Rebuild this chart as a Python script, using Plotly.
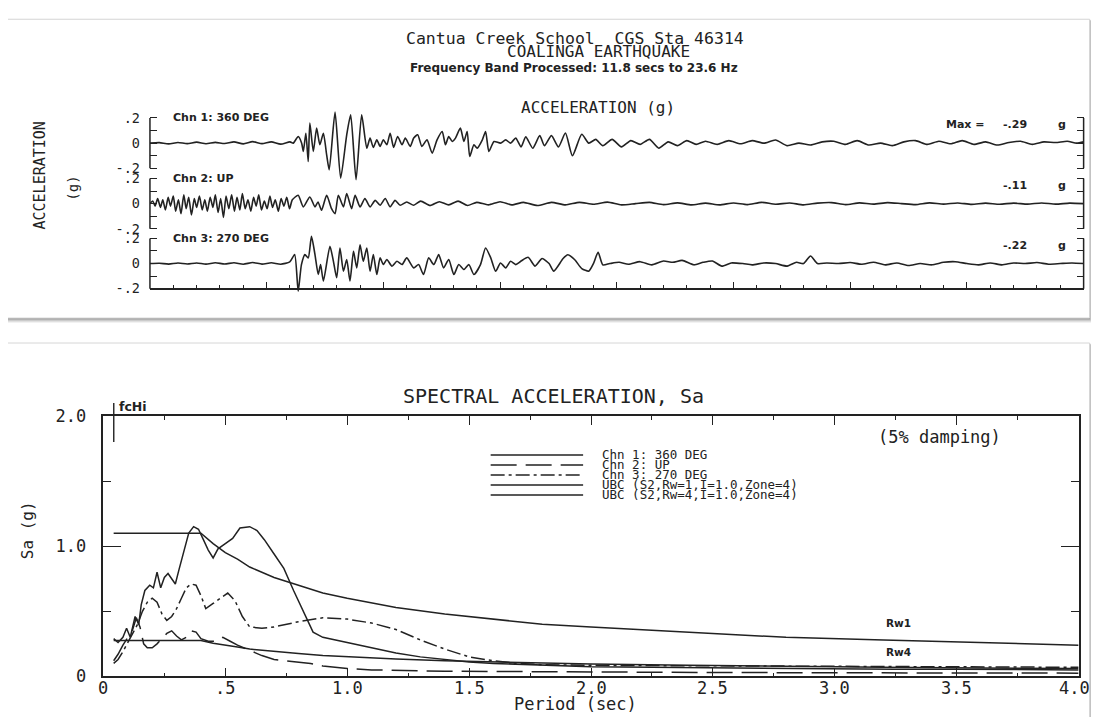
import plotly.graph_objects as go

# figure is 16 px smaller than the window so the page (with the 8 px body margin) fits
W, H = 1083, 709
OFF = 8
# measured screen calibration of the rendered page (window px = S * target + O)
SXC, OXC = 0.995, 4.8
SYC, OYC = 0.9724, 10.0

# ---------------- data: acceleration time histories (sec, g) ----------------
t_chn1 = [0, 0.4, 0.8, 1.2, 1.6, 2.0, 2.4, 2.8, 3.2, 3.6, 4.0, 4.4, 4.8, 5.2, 5.6, 6.0,
          6.14, 6.35, 6.5, 6.57, 6.68, 6.78, 6.85, 7.0, 7.14, 7.28, 7.43, 7.57, 7.68, 7.93,
          8.17, 8.43, 8.6, 8.83, 9.07, 9.29, 9.43, 9.57, 9.72, 9.86, 10.0, 10.15, 10.29,
          10.44, 10.61, 10.8, 10.94, 11.15, 11.3, 11.47, 11.65, 11.87, 12.09, 12.3, 12.52,
          12.66, 12.8, 12.95, 13.09, 13.3, 13.45, 13.59, 13.7, 13.88, 14.02, 14.24, 14.38,
          14.52, 14.74, 15.02, 15.24, 15.45, 15.67, 15.9, 16.1, 16.4, 16.7, 16.9, 17.2, 17.5,
          17.8, 18.1, 18.5, 18.8, 19.1, 19.4, 19.8, 20.2, 20.6, 21.0, 21.4, 21.8, 22.2, 22.6,
          23.0, 23.4, 23.8, 24.3, 24.8, 25.3, 25.8, 26.3, 26.8, 27.3, 27.8, 28.3, 28.8, 29.3,
          29.8, 30.3, 30.8, 31.3, 31.8, 32.3, 32.8, 33.3, 33.8, 34.3, 34.8, 35.3, 35.8, 36.3,
          36.8, 37.3, 37.8, 38.3, 38.8, 39.3, 39.7, 40.0]
a_chn1 = [0, 0.004, -0.006, 0.005, -0.004, 0.008, -0.005, 0.006, -0.003, 0.01, -0.006, 0.012, -0.004, 0.01, -0.008, 0.01,
          0.0, 0.053, 0.0, -0.066, 0.079, -0.146, 0.159, -0.066, 0.119, -0.013, 0.079, -0.093, -0.212, 0.246,
          -0.278, 0.066, 0.225, -0.290, 0.225, -0.04, 0.04, -0.034, 0.026, -0.026, 0.026, -0.013, 0.079,
          -0.034, 0.053, -0.013, 0.04, -0.026, 0.04, 0.066, -0.026, 0.026, -0.079, 0.026, 0.093,
          -0.013, 0.053, 0.013, 0.04, 0.119, 0.013, 0.093, -0.106, -0.013, -0.04, 0.026, 0.093,
          -0.066, 0.013, 0.0, 0.026, 0.0, 0.04, -0.03, 0.05, -0.04, 0.06, -0.02, 0.06, -0.03,
          0.08, -0.10, 0.07, 0.0, 0.03, -0.02, 0.03, -0.03, 0.02, -0.01, 0.03, -0.04, 0.01, -0.02,
          0.02, -0.01, 0.015, -0.01, 0.02, -0.005, 0.02, 0.0, 0.025, -0.02, 0.0, -0.015, 0.01, 0.015,
          -0.01, 0.02, -0.015, 0.0, -0.02, 0.01, 0.02, -0.01, 0.015, -0.005, 0.02, -0.01, 0.01, -0.015,
          0.005, 0.015, -0.01, 0.01, 0.005, 0.015, 0.0, 0.01]

t_chn2 = [0.0, 0.12, 0.22, 0.33, 0.45, 0.55, 0.66, 0.78, 0.88, 1.0, 1.1, 1.22, 1.33, 1.45, 1.55, 1.66,
          1.78, 1.9, 2.0, 2.12, 2.24, 2.35, 2.46, 2.58, 2.7, 2.8, 2.92, 3.03, 3.15, 3.26, 3.38, 3.5,
          3.62, 3.73, 3.85, 3.96, 4.08, 4.2, 4.32, 4.44, 4.55, 4.66, 4.78, 4.9, 5.02, 5.14, 5.25,
          5.37, 5.5, 5.62, 5.74, 5.86, 5.98, 6.1, 6.35, 6.57, 6.85, 7.07, 7.2, 7.35, 7.57, 7.78,
          7.93, 8.07, 8.29, 8.43, 8.64, 8.79, 9.0, 9.21, 9.43, 9.65, 9.86, 10.08, 10.29, 10.5,
          10.72, 11.0, 11.3, 11.6, 12.0, 12.4, 12.8, 13.2, 13.6, 14.0, 14.5, 15.0, 15.5, 16.0,
          16.6, 17.2, 17.8, 18.4, 19.0, 19.6, 20.2, 20.8, 21.4, 22.0, 22.6, 23.2, 23.8, 24.4,
          25.0, 25.6, 26.2, 26.8, 27.4, 28.0, 28.6, 29.2, 29.8, 30.4, 31.0, 31.6, 32.2, 32.8,
          33.4, 34.0, 34.6, 35.2, 35.8, 36.4, 37.0, 37.6, 38.2, 38.8, 39.4, 40.0]
a_chn2 = [0.0, 0.02, -0.02, 0.04, -0.03, 0.03, -0.05, 0.05, -0.02, 0.06, -0.06, 0.03, -0.08, 0.07, -0.04, 0.05,
          -0.09, 0.04, -0.03, 0.06, -0.05, 0.03, -0.06, 0.05, -0.03, 0.07, -0.07, 0.04, -0.11, 0.06, -0.04, 0.07,
          -0.06, 0.05, -0.05, 0.08, -0.04, 0.03, -0.06, 0.05, -0.02, 0.07, -0.05, 0.02, -0.04, 0.06, -0.03,
          0.03, -0.06, 0.04, -0.02, 0.05, -0.04, 0.03, 0.066, -0.026, 0.053, -0.026, 0.013, -0.053, 0.066, -0.04,
          -0.08, 0.066, -0.026, 0.08, -0.04, 0.066, -0.026, 0.04, -0.026, 0.026, -0.013, 0.04, -0.026, 0.026,
          -0.013, 0.013, -0.013, 0.02, -0.015, 0.015, -0.01, 0.02, -0.015, 0.01, -0.01, 0.015, -0.01, 0.01,
          -0.015, 0.01, -0.01, 0.01, -0.005, 0.012, -0.01, 0.0, 0.01, -0.008, 0.006, -0.01, 0.004, -0.01,
          0.005, -0.008, 0.01, -0.005, 0.005, -0.01, 0.004, 0.008, -0.008, 0.006, -0.004, 0.008, 0.0, -0.008,
          0.006, -0.004, 0.005, -0.006, 0.004, -0.005, 0.004, -0.004, 0.005, -0.004, 0.004, 0.0]

t_chn3 = [0, 0.4, 0.8, 1.2, 1.6, 2.0, 2.4, 2.8, 3.2, 3.6, 4.0, 4.4, 4.8, 5.2, 5.6, 5.99,
          6.2, 6.35, 6.49, 6.64, 6.78, 6.92, 7.07, 7.21, 7.31, 7.43, 7.71, 7.86, 8.0, 8.14, 8.29,
          8.43, 8.57, 8.72, 8.86, 9.0, 9.14, 9.29, 9.43, 9.57, 9.72, 9.86, 10.0, 10.15, 10.37,
          10.58, 10.8, 11.0, 11.3, 11.51, 11.72, 11.94, 12.16, 12.37, 12.58, 12.8, 13.02, 13.23,
          13.45, 13.66, 13.88, 14.16, 14.38, 14.6, 14.81, 15.02, 15.24, 15.45, 15.67, 15.9, 16.2,
          16.5, 16.8, 17.1, 17.3, 17.7, 17.9, 18.2, 18.5, 18.8, 19.0, 19.2, 19.4, 19.7, 20.1, 20.5,
          21.0, 21.5, 22.0, 22.4, 22.8, 23.3, 23.7, 24.1, 24.5, 24.9, 25.4, 25.8, 26.3, 26.8, 27.3,
          27.7, 28.0, 28.3, 28.6, 29.0, 29.5, 30.0, 30.5, 31.0, 31.5, 32.0, 32.5, 33.0, 33.5, 34.0,
          34.5, 35.0, 35.5, 36.0, 36.5, 37.0, 37.5, 38.0, 38.5, 39.0, 39.5, 40.0]
a_chn3 = [0, 0.003, -0.004, 0.004, -0.003, 0.005, -0.004, 0.006, -0.003, 0.006, -0.005, 0.008, -0.004, 0.006, -0.005, 0.013,
          0.071, -0.22, -0.008, 0.071, 0.045, 0.216, 0.071, -0.087, -0.008, -0.139, 0.137, 0.018, -0.113, 0.124, -0.061,
          0.032, -0.139, 0.097, -0.034, 0.15, 0.018, 0.124, -0.061, 0.071, -0.087, 0.045, -0.008, 0.032, -0.021,
          0.018, -0.008, 0.045, -0.034, -0.008, -0.087, 0.045, -0.008, 0.071, -0.034, 0.032, -0.087, -0.008,
          -0.047, -0.008, -0.087, -0.008, 0.124, 0.045, -0.061, 0.005, -0.034, 0.018, -0.008, 0.02, 0.05,
          -0.02, 0.04, 0.0, -0.06, 0.04, 0.07, 0.03, -0.04, -0.06, 0.0, 0.09, -0.01, 0.0, 0.01, -0.005,
          0.015, -0.01, 0.02, 0.01, 0.025, -0.01, 0.01, 0.02, -0.02, 0.005, 0.0, -0.01, 0.005, 0.0, -0.02,
          0.01, 0.0, 0.06, 0.0, 0.005, 0.0, 0.008, -0.005, 0.01, -0.01, 0.005, -0.015, 0.0, -0.01, 0.01,
          0.015, 0.0, -0.01, 0.005, -0.01, 0.005, 0.0, 0.008, -0.005, 0.0, 0.005, 0.0]

chan_labels = ["Chn 1: 360 DEG", "Chn 2: UP", "Chn 3: 270 DEG"]
max_values = ["-.29", "-.11", "-.22"]

# ---------------- data: response spectra (period sec, Sa g) ----------------
period_chn1 = [0.042, 0.06, 0.08, 0.095, 0.11, 0.13, 0.145, 0.155, 0.17, 0.19, 0.205, 0.22, 0.235, 0.25,
               0.265, 0.28, 0.295, 0.31, 0.33, 0.35, 0.37, 0.39, 0.41, 0.43, 0.45, 0.47, 0.50, 0.53, 0.56,
               0.60, 0.63, 0.66, 0.70, 0.74, 0.78, 0.82, 0.86, 0.90, 0.95, 1.0, 1.1, 1.2, 1.3, 1.4, 1.5,
               1.6, 1.8, 2.0, 2.25, 2.5, 2.75, 3.0, 3.25, 3.5, 3.75, 4.0]
sa_chn1 = [0.29, 0.26, 0.30, 0.37, 0.30, 0.46, 0.40, 0.55, 0.66, 0.70, 0.68, 0.80, 0.68, 0.76,
           0.79, 0.75, 0.71, 0.82, 0.96, 1.10, 1.15, 1.13, 1.05, 0.97, 0.91, 0.98, 1.02, 1.06, 1.14,
           1.15, 1.12, 1.05, 0.94, 0.83, 0.66, 0.50, 0.34, 0.30, 0.28, 0.26, 0.22, 0.18, 0.15, 0.13, 0.11,
           0.10, 0.085, 0.075, 0.07, 0.065, 0.06, 0.06, 0.055, 0.055, 0.05, 0.05]

period_chn2 = [0.042, 0.06, 0.08, 0.10, 0.12, 0.135, 0.15, 0.165, 0.18, 0.20, 0.22, 0.24, 0.26, 0.28,
               0.30, 0.32, 0.34, 0.36, 0.38, 0.40, 0.43, 0.46, 0.49, 0.52, 0.55, 0.60, 0.65, 0.70, 0.75,
               0.80, 0.85, 0.90, 1.0, 1.1, 1.2, 1.4, 1.6, 1.8, 2.0, 2.5, 3.0, 3.5, 4.0]
sa_chn2 = [0.12, 0.17, 0.24, 0.30, 0.36, 0.45, 0.38, 0.25, 0.22, 0.22, 0.25, 0.29, 0.33, 0.35,
           0.31, 0.28, 0.30, 0.35, 0.34, 0.29, 0.27, 0.27, 0.30, 0.27, 0.24, 0.20, 0.16, 0.13, 0.12,
           0.11, 0.10, 0.08, 0.06, 0.05, 0.045, 0.04, 0.038, 0.035, 0.032, 0.03, 0.028, 0.026, 0.025]

period_chn3 = [0.042, 0.06, 0.08, 0.10, 0.12, 0.14, 0.16, 0.18, 0.20, 0.22, 0.24, 0.26, 0.28, 0.30,
               0.32, 0.34, 0.36, 0.38, 0.40, 0.42, 0.45, 0.48, 0.51, 0.54, 0.57, 0.60, 0.65, 0.70, 0.80,
               0.90, 1.0, 1.1, 1.2, 1.3, 1.4, 1.5, 1.6, 1.7, 1.8, 2.0, 2.5, 3.0, 3.5, 4.0]
sa_chn3 = [0.10, 0.13, 0.19, 0.26, 0.32, 0.40, 0.50, 0.57, 0.60, 0.57, 0.48, 0.43, 0.46, 0.52,
           0.60, 0.68, 0.71, 0.70, 0.62, 0.52, 0.56, 0.60, 0.64, 0.58, 0.46, 0.38, 0.37, 0.38, 0.42,
           0.45, 0.44, 0.41, 0.36, 0.28, 0.21, 0.15, 0.12, 0.10, 0.09, 0.085, 0.08, 0.075, 0.07, 0.07]

period_ubc = [0.042, 0.40, 0.45, 0.5, 0.55, 0.6, 0.7, 0.8, 0.9, 1.0, 1.2, 1.4, 1.6, 1.8, 2.0,
              2.4, 2.8, 3.2, 3.6, 4.0]
sa_rw1 = [1.10, 1.10, 1.02, 0.95, 0.90, 0.84, 0.76, 0.70, 0.64, 0.60, 0.53, 0.48, 0.44, 0.40, 0.38,
          0.34, 0.30, 0.28, 0.26, 0.24]
sa_rw4 = [0.275, 0.275, 0.255, 0.238, 0.225, 0.21, 0.19, 0.175, 0.16, 0.15, 0.133, 0.12, 0.11, 0.10, 0.095,
          0.085, 0.075, 0.07, 0.065, 0.06]

legend_labels = ["Chn 1: 360 DEG", "Chn 2: UP", "Chn 3: 270 DEG",
                 "UBC (S2,Rw=1,I=1.0,Zone=4)", "UBC (S2,Rw=4,I=1.0,Zone=4)"]
spec_xticks = [0, 0.5, 1.0, 1.5, 2.0, 2.5, 3.0, 3.5, 4.0]
spec_xtext = ["0", ".5", "1.0", "1.5", "2.0", "2.5", "3.0", "3.5", "4.0"]
spec_yticks = [0, 1, 2]
spec_ytext = ["0", "1.0", "2.0"]
fc_hi = 0.0424

# ---------------- helpers (screen pixel -> paper) ----------------
def fx(px):
    t = (px - OXC) / SXC
    return (t - OFF) / W

def fy(py):
    t = (py - OYC) / SYC
    return 1 - (t - OFF) / H

MONO = "DejaVu Sans Mono"
SANS = "DejaVu Sans"
INK = "#222222"

fig = go.Figure()

# ---------------- top: time histories ----------------
TX0, TX1 = 154, 1083
zeros_px = [143, 203.5, 263.5]
SCALE = 126.0  # px per g
R = 0.36
ynames = ["y", "y2", "y3"]
series = [(t_chn1, a_chn1), (t_chn2, a_chn2), (t_chn3, a_chn3)]
for i, (tt, aa) in enumerate(series):
    fig.add_trace(go.Scatter(x=tt, y=aa, xaxis="x", yaxis=ynames[i], mode="lines",
                             line=dict(color=INK, width=1.6, shape="spline", smoothing=0.6),
                             showlegend=False, hoverinfo="skip"))

layout_axes = {}
layout_axes["xaxis"] = dict(domain=[fx(TX0), fx(TX1)], range=[0, 40], anchor="free",
                            position=fy(zeros_px[2] + 0.2 * SCALE),
                            showline=True, linecolor=INK, linewidth=1.5,
                            ticks="inside", ticklen=6, tickwidth=1.3, tickcolor=INK,
                            tick0=0, dtick=5,
                            minor=dict(ticks="inside", ticklen=3, dtick=1, tickcolor=INK, tickwidth=1.2),
                            showticklabels=False, showgrid=False, zeroline=False, fixedrange=True)
for i, z in enumerate(zeros_px):
    key = "yaxis" if i == 0 else f"yaxis{i+1}"
    layout_axes[key] = dict(domain=[fy(z + R * SCALE), fy(z - R * SCALE)], range=[-R, R],
                            anchor="x", tickvals=[-0.2, -0.1, 0, 0.1, 0.2],
                            ticktext=["-.2", "", "0", "", ".2"],
                            ticks="inside", ticklen=7, tickwidth=1.4, tickcolor=INK,
                            mirror="ticks", showline=False, showgrid=False, zeroline=False,
                            tickfont=dict(family=MONO, size=13.5, color=INK),
                            ticklabelstandoff=9, fixedrange=True)

# ---------------- bottom: spectra ----------------
SX0, SX1 = 107.7, 1078
SY0, SY1 = 676.6, 416
spec = [(period_chn1, sa_chn1, "solid"),
        (period_chn2, sa_chn2, "26px,9px"),
        (period_chn3, sa_chn3, "14px,4px,3px,4px"),
        (period_ubc, sa_rw1, "solid"),
        (period_ubc, sa_rw4, "solid")]
for j, (pp, ss, dash) in enumerate(spec):
    fig.add_trace(go.Scatter(x=pp, y=ss, xaxis="x2", yaxis="y4", mode="lines",
                             line=dict(color=INK, width=1.5, dash=dash),
                             showlegend=False, hoverinfo="skip"))

layout_axes["xaxis2"] = dict(domain=[fx(SX0), fx(SX1)], range=[0, 4], anchor="y4",
                             tickvals=spec_xticks, showticklabels=False,
                             showline=True, linecolor=INK, linewidth=1.6, mirror="ticks",
                             ticks="inside", ticklen=9, tickwidth=1.3, tickcolor=INK,
                             minor=dict(ticks="inside", ticklen=4, dtick=0.25, tickcolor=INK, tickwidth=1.2),
                             showgrid=False, zeroline=False, fixedrange=True)
layout_axes["yaxis4"] = dict(domain=[fy(SY0), fy(SY1)], range=[0, 2], anchor="x2",
                             tickvals=spec_yticks, ticktext=spec_ytext,
                             showline=True, linecolor=INK, linewidth=1.6, mirror="ticks",
                             ticks="inside", ticklen=18, tickwidth=1.3, tickcolor=INK,
                             minor=dict(ticks="inside", ticklen=8, dtick=0.5, tickcolor=INK, tickwidth=1.2),
                             tickfont=dict(family=MONO, size=17, color=INK),
                             showgrid=False, zeroline=False, ticklabelstandoff=12,
                             fixedrange=True)

# ---------------- cards (background panels) ----------------
shapes = []
def card(x0, y0, x1, y1):
    for k, op in [(5, 0.05), (4, 0.07), (3, 0.09), (2, 0.12), (1, 0.16)]:
        shapes.append(dict(type="rect", xref="paper", yref="paper", layer="below",
                           x0=fx(x0 + k * 0.4), x1=fx(x1 + k * 0.4), y0=fy(y1 + k), y1=fy(y0 + k * 0.3),
                           fillcolor=f"rgba(0,0,0,{op})", line=dict(width=0)))
    shapes.append(dict(type="rect", xref="paper", yref="paper", layer="below",
                       x0=fx(x0), x1=fx(x1), y0=fy(y1), y1=fy(y0),
                       fillcolor="white", line=dict(color="#d6d6d6", width=1)))
card(10, 19, 1089, 318)
card(10, 343, 1089, 745)

# bracket verticals for the three traces
for i, z in enumerate(zeros_px):
    yr = ynames[i]
    for xd in (0, 1):
        shapes.append(dict(type="line", xref="x domain", yref=yr, x0=xd, x1=xd, y0=-0.2, y1=0.2,
                           line=dict(color=INK, width=1.5)))

# fcHi marker
shapes.append(dict(type="line", xref="x2", yref="paper", x0=fc_hi, x1=fc_hi,
                   y0=fy(442), y1=fy(403), line=dict(color=INK, width=1.4)))

# legend sample lines
leg_rows = [455, 465, 475, 485, 495]
leg_dash = ["solid", "26px,9px", "14px,4px,3px,4px", "solid", "solid"]
for r, d in zip(leg_rows, leg_dash):
    shapes.append(dict(type="line", xref="paper", yref="paper", x0=fx(493), x1=fx(585),
                       y0=fy(r), y1=fy(r), line=dict(color=INK, width=1.5, dash=d)))

# ---------------- annotations ----------------
ann = []
def text(x, y, s, size, family=MONO, xanchor="center", angle=0, xref="paper", yref="paper",
         bold=False, **kw):
    if bold:
        s = "<b>" + s + "</b>"
    ann.append(dict(x=x, y=y, xref=xref, yref=yref, text=s, showarrow=False,
                    xanchor=xanchor, yanchor="middle", textangle=angle,
                    font=dict(family=family, size=size, color=INK), **kw))

text(fx(577), fy(38), "Cantua Creek School\u00a0 CGS Sta 46314", 16.5)
text(fx(600), fy(51), "COALINGA EARTHQUAKE", 16)
text(fx(576), fy(68), "Frequency Band Processed: 11.8 secs to 23.6 Hz", 12, family=SANS, bold=True)
text(fx(600), fy(107), "ACCELERATION (g)", 16)
text(fx(45), fy(175), "ACCELERATION", 15, angle=-90)
text(fx(78), fy(188), "(g)", 14, angle=-90)
for i, z in enumerate(zeros_px):
    top = z - 0.2 * SCALE
    text(fx(175), fy(top), chan_labels[i], 11, family=SANS, xanchor="left", bold=True)
    if i == 0:
        text(fx(965), fy(top + 7), "Max =", 11, family=SANS, bold=True)
    text(fx(1015), fy(top + 7), max_values[i], 11, family=SANS, bold=True)
    text(fx(1061), fy(top + 7), "g", 11, family=SANS, bold=True)

text(fx(556), fy(396), "SPECTRAL ACCELERATION, Sa", 20)
text(fx(33), fy(530), "Sa (g)", 16, angle=-90)
text(fx(940), fy(437), "(5% damping)", 17)
text(fc_hi, fy(407), "fcHi", 12.5, family=SANS, xanchor="left", xref="x2", xshift=3, bold=True)
for r, lab in zip(leg_rows, legend_labels):
    text(fx(602), fy(r), lab, 12.5, xanchor="left")
for k, (v, s) in enumerate(zip(spec_xticks, spec_xtext)):
    text(v, fy(688), s, 17, xref="x2", xshift=(-4 if k == len(spec_xticks) - 1 else 0))
text(fx(577), fy(704), "Period (sec)", 17)
text(3.26, 0.41, "Rw1", 10.5, family=SANS, xref="x2", yref="y4", bold=True)
text(3.26, 0.19, "Rw4", 10.5, family=SANS, xref="x2", yref="y4", bold=True)

fig.update_layout(width=W, height=H, margin=dict(l=0, r=0, t=0, b=0),
                  paper_bgcolor="white", plot_bgcolor="rgba(0,0,0,0)",
                  shapes=shapes, annotations=ann, showlegend=False, **layout_axes)

fig.write_html("out.html", config={"displayModeBar": False})
